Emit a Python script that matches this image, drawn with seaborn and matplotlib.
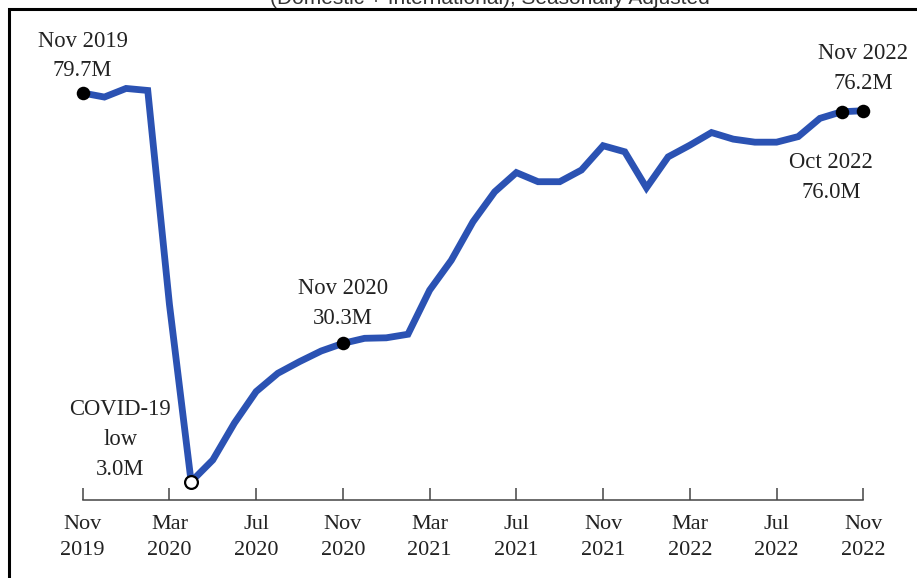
import numpy as np
import pandas as pd
import matplotlib
matplotlib.use("Agg")
import matplotlib.pyplot as plt
import seaborn as sns
from matplotlib.patches import Rectangle

# ---------------- data ----------------
months = ["Nov 2019", "Dec 2019", "Jan 2020", "Feb 2020", "Mar 2020", "Apr 2020",
          "May 2020", "Jun 2020", "Jul 2020", "Aug 2020", "Sep 2020", "Oct 2020",
          "Nov 2020", "Dec 2020", "Jan 2021", "Feb 2021", "Mar 2021", "Apr 2021",
          "May 2021", "Jun 2021", "Jul 2021", "Aug 2021", "Sep 2021", "Oct 2021",
          "Nov 2021", "Dec 2021", "Jan 2022", "Feb 2022", "Mar 2022", "Apr 2022",
          "May 2022", "Jun 2022", "Jul 2022", "Aug 2022", "Sep 2022", "Oct 2022",
          "Nov 2022"]
passengers_m = [79.7, 78.9, 80.6, 80.2, 38.0, 3.0,
                7.3, 14.6, 20.8, 24.4, 26.7, 28.8,
                30.3, 31.3, 31.4, 32.1, 40.8, 46.7,
                54.3, 60.2, 64.0, 62.2, 62.2, 64.5,
                69.3, 68.1, 61.0, 67.1, 69.4, 71.9,
                70.6, 70.0, 70.0, 71.1, 74.7, 76.0,
                76.2]
tick_labels = ["Nov\n2019", "Mar\n2020", "Jul\n2020", "Nov\n2020", "Mar\n2021",
               "Jul\n2021", "Nov\n2021", "Mar\n2022", "Jul\n2022", "Nov\n2022"]
highlight_filled = ["Nov 2019", "Nov 2020", "Oct 2022", "Nov 2022"]
highlight_open = ["Apr 2020"]
annotations = {
    "Nov 2019": "Nov 2019\n79.7M",
    "Nov 2020": "Nov 2020\n30.3M",
    "Apr 2020": "COVID-19\nlow\n3.0M",
    "Nov 2022": "Nov 2022\n76.2M",
    "Oct 2022": "Oct 2022\n76.0M",
}
title_text = "(Domestic + International), Seasonally Adjusted"

df = pd.DataFrame({"month": months, "value": passengers_m})
df["idx"] = np.arange(len(df))

# ---------------- style ----------------
sns.set_theme(style="white")
plt.rcParams["font.family"] = ["Liberation Serif", "DejaVu Serif"]

W, H = 917, 578
fig = plt.figure(figsize=(W / 100, H / 100), dpi=100)
ax = fig.add_axes([82.7 / W, 1 - 500 / H, 780.6 / W, 459.2 / H])

line_color = "#2b52b3"
sns.lineplot(data=df, x="idx", y="value", ax=ax, color=line_color,
             linewidth=4.9, solid_joinstyle="miter", solid_capstyle="butt")

hf = df[df["month"].isin(highlight_filled)]
sns.scatterplot(data=hf, x="idx", y="value", ax=ax, color="black", s=95,
                edgecolor="black", linewidth=0, zorder=5, clip_on=False)
ho = df[df["month"].isin(highlight_open)]
sns.scatterplot(data=ho, x="idx", y="value", ax=ax, color="white", s=85,
                edgecolor="black", linewidth=1.6, zorder=5, clip_on=False)

ax.set_xlim(0, len(df) - 1)
ax.set_ylim(-0.6, 90)
ax.set_xlabel("")
ax.set_ylabel("")
ax.set_yticks([])
ax.set_xticks(np.arange(0, len(df), 4))
ax.set_xticklabels(tick_labels, fontsize=16, color="#222222", linespacing=1.5)
ax.tick_params(axis="x", direction="in", length=8.6, width=1.1, color="#444444",
               pad=10.5, bottom=True)
for s in ["left", "right", "top"]:
    ax.spines[s].set_visible(False)
ax.spines["bottom"].set_color("#444444")
ax.spines["bottom"].set_linewidth(1.1)
ax.patch.set_alpha(0)

offsets = {
    "Nov 2019": (0, 37),
    "Nov 2020": (0, 40),
    "Apr 2020": (-71, 42),
    "Nov 2022": (0, 42),
    "Oct 2022": (-10.6, -66),
}
for m, txt in annotations.items():
    r = df[df["month"] == m].iloc[0]
    ax.annotate(txt, xy=(r["idx"], r["value"]), xytext=offsets[m],
                textcoords="offset pixels", ha="center", va="center",
                fontsize=16.3, color="#222222", linespacing=1.55,
                annotation_clip=False)

# border frame (cut off at right/bottom as in the screenshot)
fig.patches.append(Rectangle((9 / W, -0.05), 1.2, 1 - 9 / H + 0.05,
                             transform=fig.transFigure, fill=False,
                             edgecolor="black", linewidth=2.2, zorder=0))

fig.text(490 / W, 1 - 4 / H, title_text, ha="center", va="baseline",
         fontsize=15, color="#333333", family=["Liberation Sans", "DejaVu Sans"])

fig.savefig("out.png", dpi=100, facecolor="white")
